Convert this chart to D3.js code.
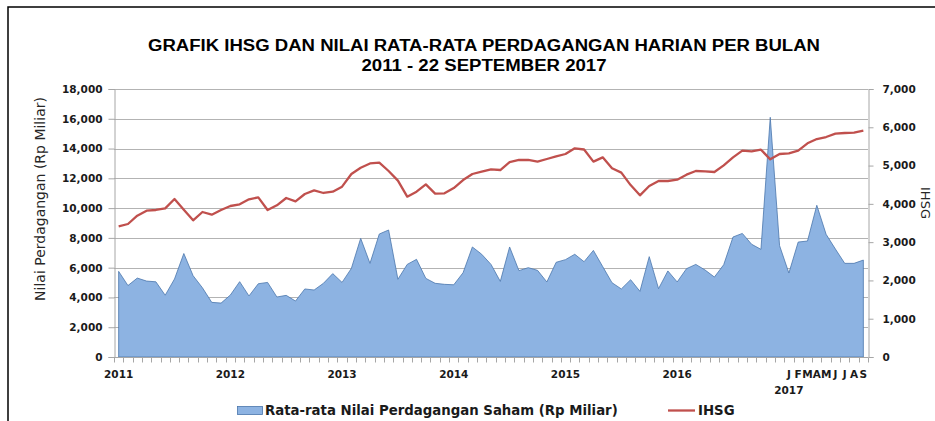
<!DOCTYPE html>
<html>
<head>
<meta charset="utf-8">
<script src="https://cdnjs.cloudflare.com/ajax/libs/d3/7.8.5/d3.min.js"></script>
<style>
  body { margin: 0; background: #fff; }
  svg { display: block; }
</style>
</head>
<body>
<div id="visualization-area"></div>
<script>

// rata-rata nilai perdagangan harian (Rp Miliar), Jan 2011 - Sep 2017
var nilai = [
    5750, 4800, 5300, 5100, 5050, 4150, 5240, 6950, 5460, 4650, 3670, 3620,
    4160, 5060, 4100, 4920, 5010, 4030, 4140, 3760, 4570, 4500, 4950, 5600,
    5010, 5950, 7970, 6290, 8260, 8530, 5220, 6220, 6560, 5280, 4950, 4880,
    4850, 5660, 7390, 6900, 6220, 5080, 7390, 5800, 6000, 5820, 5040, 6360,
    6540, 6900, 6400, 7160, 6070, 4990, 4570, 5190, 4410, 6740, 4590, 5780,
    5040, 5930, 6220, 5840, 5370, 6200, 8060, 8300, 7570, 7230, 16100, 7480,
    5640, 7720, 7790, 10190, 8240, 7250, 6290, 6290, 6510
];

// IHSG akhir bulan
var ihsg = [
    3413, 3474, 3691, 3822, 3840, 3883, 4127, 3848, 3570, 3787, 3718, 3840,
    3944, 3988, 4118, 4171, 3840, 3962, 4153, 4066, 4258, 4353, 4284, 4318,
    4449, 4780, 4945, 5055, 5076, 4858, 4606, 4188, 4318, 4510, 4266, 4275,
    4414, 4623, 4780, 4841, 4902, 4884, 5093, 5146, 5146, 5102, 5172, 5241,
    5302, 5450, 5420, 5102, 5215, 4928, 4815, 4490, 4223, 4467, 4597, 4597,
    4632, 4763, 4858, 4850, 4832, 5006, 5215, 5390, 5372, 5415, 5163, 5302,
    5320, 5390, 5581, 5694, 5746, 5833, 5851, 5860, 5911
];

var yearLabels = ["2011", "2012", "2013", "2014", "2015", "2016"];
var monthLabels2017 = ["J", "F", "M", "A", "M", "J", "J", "A", "S"];
var leftTicks = [0, 2000, 4000, 6000, 8000, 10000, 12000, 14000, 16000, 18000];
var rightTicks = [0, 1000, 2000, 3000, 4000, 5000, 6000, 7000];

var W = 935, H = 421;
var margin = {top: 89, right: 67, bottom: 64, left: 114},
    width = W - margin.left - margin.right,
    height = H - margin.top - margin.bottom;

var svg = d3.select("#visualization-area").append("svg")
    .attr("width", W)
    .attr("height", H);

svg.append("rect").attr("width", W).attr("height", H).attr("fill", "#fff");

// bingkai
svg.append("path")
    .attr("d", "M8," + H + "V7H" + W)
    .attr("fill", "none")
    .attr("stroke", "#000")
    .attr("stroke-width", 1.5);

var x = d3.scaleBand()
    .domain(d3.range(nilai.length))
    .range([margin.left, margin.left + width]);

var yL = d3.scaleLinear().domain([0, 18000]).range([margin.top + height, margin.top]);
var yR = d3.scaleLinear().domain([0, 7000]).range([margin.top + height, margin.top]);

function cx(i) { return x(i) + x.bandwidth() / 2; }

// gridlines
svg.append("g").selectAll("line")
    .data(leftTicks.slice(1))
    .enter().append("line")
    .attr("x1", margin.left).attr("x2", margin.left + width)
    .attr("y1", function(d) { return Math.round(yL(d)) + 0.5; })
    .attr("y2", function(d) { return Math.round(yL(d)) + 0.5; })
    .attr("stroke", "#b3b3b3")
    .attr("stroke-width", 1);

// area nilai perdagangan
var area = d3.area()
    .x(function(d, i) { return cx(i); })
    .y0(yL(0))
    .y1(function(d) { return yL(d); });

svg.append("path")
    .datum(nilai)
    .attr("d", area)
    .attr("fill", "#8db3e2")
    .attr("stroke", "#4a76ac")
    .attr("stroke-width", 0.8);

// garis IHSG
var line = d3.line()
    .x(function(d, i) { return cx(i); })
    .y(function(d) { return yR(d); });

svg.append("path")
    .datum(ihsg)
    .attr("d", line)
    .attr("fill", "none")
    .attr("stroke", "#c0504d")
    .attr("stroke-width", 2.3)
    .attr("stroke-linejoin", "round");

var axisColor = "#a6a6a6";
var tickFont = "DejaVu Sans, Verdana, sans-serif";

// sumbu kiri
var gL = svg.append("g")
    .attr("transform", "translate(" + (margin.left + 0.5) + ",0)")
    .call(d3.axisLeft(yL).tickValues(leftTicks).tickSize(6).tickPadding(6)
        .tickFormat(d3.format(",")));
// sumbu kanan
var gR = svg.append("g")
    .attr("transform", "translate(" + (margin.left + width + 0.5) + ",0)")
    .call(d3.axisRight(yR).tickValues(rightTicks).tickSize(5).tickPadding(9)
        .tickFormat(d3.format(",")));

[gL, gR].forEach(function(g) {
    g.select(".domain").attr("stroke", axisColor);
    g.selectAll(".tick line").attr("stroke", axisColor);
    g.selectAll("text")
        .attr("fill", "#1a1a1a")
        .style("font-family", tickFont)
        .style("font-weight", "bold")
        .style("font-size", "10.5px");
});

// sumbu bawah
var gB = svg.append("g")
    .attr("transform", "translate(0," + (margin.top + height + 0.5) + ")");
gB.append("line")
    .attr("x1", margin.left).attr("x2", margin.left + width)
    .attr("stroke", axisColor);
gB.selectAll(".tk")
    .data(d3.range(nilai.length + 1))
    .enter().append("line")
    .attr("class", "tk")
    .attr("x1", function(i) { return Math.round(margin.left + i * x.bandwidth()) + 0.5; })
    .attr("x2", function(i) { return Math.round(margin.left + i * x.bandwidth()) + 0.5; })
    .attr("y1", 0).attr("y2", 5)
    .attr("stroke", axisColor);

gB.selectAll(".yr")
    .data(yearLabels)
    .enter().append("text")
    .attr("x", function(d, i) { return cx(i * 12); })
    .attr("y", 20)
    .attr("text-anchor", "middle")
    .style("font-family", tickFont)
    .style("font-weight", "bold")
    .style("font-size", "10.5px")
    .attr("fill", "#1a1a1a")
    .text(function(d) { return d; });

gB.selectAll(".mo")
    .data(monthLabels2017)
    .enter().append("text")
    .attr("x", function(d, i) { return cx(72 + i); })
    .attr("y", 20)
    .attr("text-anchor", "middle")
    .style("font-family", tickFont)
    .style("font-weight", "bold")
    .style("font-size", "10.5px")
    .attr("fill", "#1a1a1a")
    .text(function(d) { return d; });

gB.append("text")
    .attr("x", cx(72))
    .attr("y", 36)
    .attr("text-anchor", "middle")
    .style("font-family", tickFont)
    .style("font-weight", "bold")
    .style("font-size", "10.5px")
    .attr("fill", "#1a1a1a")
    .text("2017");

// judul
var title = svg.append("g")
    .style("font-family", "Liberation Sans, Arial, sans-serif")
    .style("font-weight", "bold")
    .style("font-size", "16px")
    .attr("text-anchor", "middle");
title.append("text")
    .attr("x", 484).attr("y", 51)
    .attr("textLength", 672).attr("lengthAdjust", "spacingAndGlyphs")
    .text("GRAFIK IHSG DAN NILAI RATA-RATA  PERDAGANGAN  HARIAN  PER BULAN");
title.append("text")
    .attr("x", 484).attr("y", 71)
    .attr("textLength", 245).attr("lengthAdjust", "spacingAndGlyphs")
    .text("2011  -  22 SEPTEMBER 2017");

// judul sumbu
svg.append("text")
    .attr("transform", "translate(45,199) rotate(-90)")
    .attr("text-anchor", "middle")
    .style("font-family", tickFont)
    .style("font-size", "14px")
    .attr("fill", "#262626")
    .text("Nilai Perdagangan (Rp Miliar)");

svg.append("text")
    .attr("transform", "translate(921,203) rotate(90)")
    .attr("text-anchor", "middle")
    .style("font-family", tickFont)
    .style("font-size", "13px")
    .attr("fill", "#262626")
    .text("IHSG");

// legenda
var leg = svg.append("g")
    .style("font-family", tickFont)
    .style("font-weight", "bold")
    .style("font-size", "13.3px");
leg.append("rect")
    .attr("x", 237.5).attr("y", 406.5).attr("width", 25).attr("height", 8)
    .attr("fill", "#8db3e2").attr("stroke", "#4a76ac").attr("stroke-width", 0.8);
leg.append("text")
    .attr("x", 265).attr("y", 415)
    .attr("fill", "#1a1a1a")
    .text("Rata-rata Nilai Perdagangan Saham (Rp Miliar)");
leg.append("line")
    .attr("x1", 668).attr("x2", 695).attr("y1", 410.5).attr("y2", 410.5)
    .attr("stroke", "#c0504d").attr("stroke-width", 2.3);
leg.append("text")
    .attr("x", 698).attr("y", 415)
    .attr("fill", "#1a1a1a")
    .text("IHSG");

</script>
</body>
</html>
